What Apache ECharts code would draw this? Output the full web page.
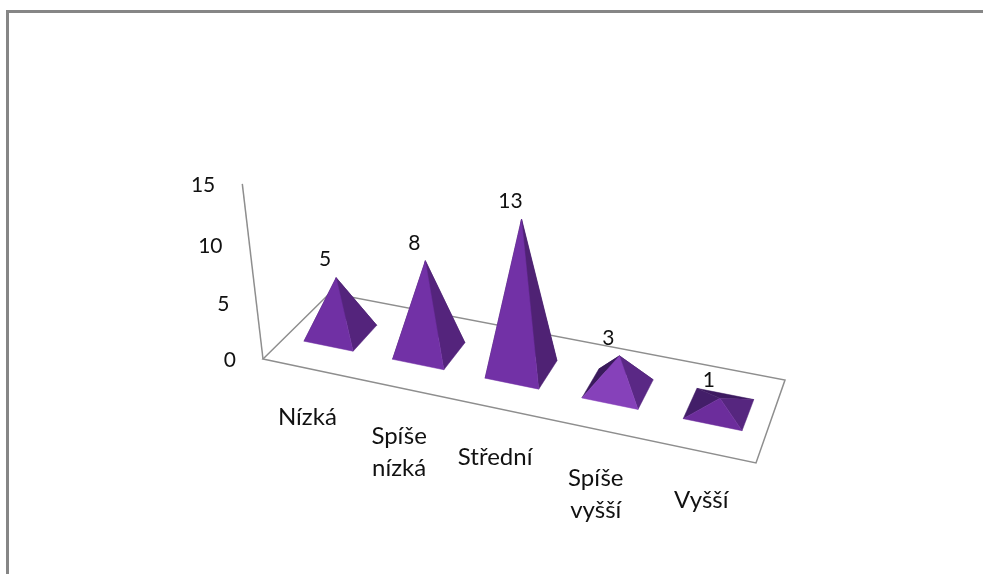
<!DOCTYPE html>
<html>
<head>
<meta charset="utf-8">
<style>
html, body { margin: 0; padding: 0; background: #fff; }
#main { width: 983px; height: 574px; }
</style>
<script src="https://cdn.jsdelivr.net/npm/echarts@6/dist/echarts.min.js"></script>
</head>
<body>
<div id="main"></div>
<script>
// data
var categories = ['Nízká', 'Spíše\nnízká', 'Střední', 'Spíše\nvyšší', 'Vyšší'];
var values = [5, 8, 13, 3, 1];
var yTicks = [0, 5, 10, 15];

// face colours per pyramid: back-right, back-left, right, front
var faceColors = [
    ['#3e1b63', '#3e1b63', '#54247c', '#7030a4'],
    ['#3e1b63', '#3e1b63', '#54247c', '#7231a6'],
    ['#3e1b63', '#3e1b63', '#4f2274', '#7231a6'],
    ['#331653', '#3a1a5c', '#5a2885', '#8641ba'],
    ['#3d1a60', '#431e69', '#56267f', '#6c2d9c']
];

var fontName = 'Lato, "Open Sans", sans-serif';
var textColor = '#111';
var lineColor = '#8e8e8e';

// floor corners on screen: front-left, front-right, back-right, back-left
var p0 = [263, 359], p1 = [756, 463], p2 = [785, 380], p3 = [330, 293];

// homography of the unit square to the floor
var dx1 = p1[0] - p2[0], dx2 = p3[0] - p2[0], sx = p0[0] - p1[0] + p2[0] - p3[0];
var dy1 = p1[1] - p2[1], dy2 = p3[1] - p2[1], sy = p0[1] - p1[1] + p2[1] - p3[1];
var det = dx1 * dy2 - dx2 * dy1;
var gg = (sx * dy2 - dx2 * sy) / det;
var hh = (dx1 * sy - sx * dy1) / det;

function floorPoint(t, d) {
    var w = gg * t + hh * d + 1;
    return [
        ((p1[0] - p0[0] + gg * p1[0]) * t + (p3[0] - p0[0] + hh * p3[0]) * d + p0[0]) / w,
        ((p1[1] - p0[1] + gg * p1[1]) * t + (p3[1] - p0[1] + hh * p3[1]) * d + p0[1]) / w
    ];
}

// lift a floor point by h px of the value axis, verticals lean towards a vanishing point
function lift(pt, h) {
    var up = h * (1 + 0.0005 * h);
    return [pt[0] + (pt[0] - 520) * 0.00046 * up, pt[1] - up];
}

function label(text, x, y, align, vAlign, size) {
    return {
        type: 'text',
        silent: true,
        style: {
            text: text,
            x: x,
            y: y,
            align: align,
            verticalAlign: vAlign,
            fontSize: size,
            lineHeight: 32,
            fontFamily: fontName,
            fill: textColor
        }
    };
}

function tri(a, b, c, color) {
    return {
        type: 'polygon',
        silent: true,
        shape: { points: [a, b, c] },
        style: { fill: color, stroke: color, lineWidth: 0.5 }
    };
}

var myChart = echarts.init(document.getElementById('main'), null, { renderer: 'canvas' });

var option = {
    animation: false,
    backgroundColor: '#fff',
    grid: { left: 263, right: 227, top: 198, bottom: 214 },
    xAxis: { type: 'category', data: categories, show: false },
    yAxis: { type: 'value', min: 0, max: 15, interval: 5, show: false },
    graphic: [{
        // outer chart frame, runs off the right and bottom of the page
        type: 'rect',
        silent: true,
        shape: { x: 7.5, y: 11.5, width: 1100, height: 700 },
        style: { fill: 'none', stroke: '#868686', lineWidth: 3 }
    }],
    series: [
        {
            // floor and value axis line
            type: 'custom',
            coordinateSystem: 'cartesian2d',
            data: [[0, yTicks[yTicks.length - 1]]],
            renderItem: function (params, api) {
                var h = params.coordSys.y + params.coordSys.height - api.coord([0, api.value(1)])[1];
                return {
                    type: 'group',
                    children: [{
                        type: 'polygon',
                        silent: true,
                        shape: { points: [p0, p1, p2, p3] },
                        style: { fill: 'none', stroke: lineColor, lineWidth: 1.5 }
                    }, {
                        type: 'polyline',
                        silent: true,
                        shape: { points: [p0, lift(p0, h)] },
                        style: { fill: 'none', stroke: lineColor, lineWidth: 1.5 }
                    }]
                };
            }
        },
        {
            // pyramids
            type: 'custom',
            coordinateSystem: 'cartesian2d',
            data: values.map(function (v, i) { return [i, v]; }),
            renderItem: function (params, api) {
                var cs = params.coordSys;
                var i = api.value(0);
                var pos = api.coord([i, api.value(1)]);
                var t = (pos[0] - cs.x) / cs.width;
                var dt = 0.28 * api.size([1, 0])[0] / cs.width;
                var dd = 0.19;
                var left = floorPoint(t - dt, 0.5 - dd);
                var front = floorPoint(t + dt, 0.5 - dd);
                var right = floorPoint(t + dt, 0.5 + dd);
                var back = floorPoint(t - dt, 0.5 + dd);
                var apex = lift(floorPoint(t, 0.5), cs.y + cs.height - pos[1]);
                var c = faceColors[i];
                return {
                    type: 'group',
                    children: [
                        tri(back, right, apex, c[0]),
                        tri(left, back, apex, c[1]),
                        tri(front, right, apex, c[2]),
                        tri(left, front, apex, c[3]),
                        label(String(api.value(1)), apex[0] - 11, apex[1] - 18, 'center', 'middle', 21)
                    ]
                };
            }
        },
        {
            // value axis labels
            type: 'custom',
            coordinateSystem: 'cartesian2d',
            data: yTicks.map(function (v) { return [0, v]; }),
            renderItem: function (params, api) {
                var h = params.coordSys.y + params.coordSys.height - api.coord([0, api.value(1)])[1];
                var pt = lift(p0, h);
                return label(String(api.value(1)), pt[0] - 27, pt[1] + 1, 'right', 'middle', 21);
            }
        },
        {
            // category labels, hang below the front edge of the floor
            type: 'custom',
            coordinateSystem: 'cartesian2d',
            data: categories.map(function (c, i) { return [i, 0]; }),
            renderItem: function (params, api) {
                var cs = params.coordSys;
                var i = api.value(0);
                var t = (api.coord([i, 0])[0] - cs.x) / cs.width;
                var pt = floorPoint(t, 0);
                return label(categories[i], pt[0], pt[1] + 33, 'center', 'top', 24);
            }
        }
    ]
};
myChart.setOption(option);
</script>
</body>
</html>
